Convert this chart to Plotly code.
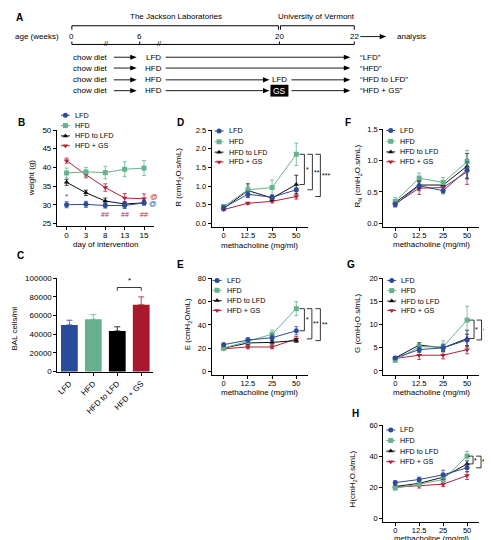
import plotly.graph_objects as go

W, H = 492, 540
def fx(p): return p / W
def fy(p): return 1 - p / H

FONT = "Liberation Sans, Arial, Helvetica, sans-serif"

groups = ["LFD", "HFD", "HFD to LFD", "HFD + GS"]
colors = ["#2d4b9b", "#67b28f", "#111111", "#b1213a"]
bar_colors = ["#2a4a9a", "#66b08e", "#000000", "#a8192f"]
symbols = ["circle", "square", "triangle-up", "triangle-down"]

# ---------------- Panel A (timeline) ----------------
age_ticks = ["0", "6", "20", "22"]
site_labels = ["The Jackson Laboratories", "University of Vermont"]
start_diet = "chow diet"
first_diet = ["LFD", "HFD", "HFD", "HFD"]
switch_at_20 = ["", "", "LFD", "GS"]
outcome = ["\u201cLFD\u201d", "\u201cHFD\u201d", "\u201cHFD to LFD\u201d", "\u201cHFD + GS\u201d"]

# ---------------- Panel B (weight) ----------------
days = ["0", "3", "8", "13", "15"]
weight_LFD = [30.0, 30.1, 29.8, 29.8, 30.5]
weight_HFD = [38.5, 38.8, 38.6, 39.5, 39.8]
weight_HFD_to_LFD = [36.0, 33.2, 31.0, 30.2, 30.5]
weight_HFD_GS = [41.8, 38.0, 34.6, 31.8, 31.6]
weight_err_LFD = [0.8, 0.8, 0.7, 0.8, 0.6]
weight_err_HFD = [1.3, 1.2, 1.7, 2.0, 2.0]
weight_err_HFD_to_LFD = [0.8, 0.7, 0.8, 0.6, 0.5]
weight_err_HFD_GS = [0.7, 0.8, 1.0, 1.2, 1.3]

# ---------------- Panel C (BAL cells) ----------------
bal_cells = [50000, 56000, 43500, 71500]
bal_err = [5000, 5000, 4500, 8500]

# ---------------- Panels D-H (methacholine) ----------------
mch = ["0", "12.5", "25", "50"]

R_LFD = [0.42, 0.78, 0.70, 0.90]
R_HFD = [0.45, 0.90, 0.96, 1.85]
R_HFD_to_LFD = [0.40, 0.88, 0.68, 1.04]
R_HFD_GS = [0.37, 0.54, 0.59, 0.72]
R_err_LFD = [0.05, 0.08, 0.06, 0.05]
R_err_HFD = [0.05, 0.10, 0.20, 0.30]
R_err_HFD_to_LFD = [0.04, 0.18, 0.07, 0.25]
R_err_HFD_GS = [0.03, 0.03, 0.04, 0.07]

E_LFD = [23, 27, 29, 35]
E_HFD = [20, 26, 32, 54]
E_HFD_to_LFD = [20, 24.5, 25, 26.5]
E_HFD_GS = [19.5, 21, 21, 28]
E_err_LFD = [1.5, 2, 2.5, 3.5]
E_err_HFD = [1, 2, 3.5, 6]
E_err_HFD_to_LFD = [1, 1.5, 1.5, 1.5]
E_err_HFD_GS = [1, 1.5, 1.5, 2]

RN_LFD = [0.30, 0.60, 0.52, 0.85]
RN_HFD = [0.35, 0.72, 0.65, 0.98]
RN_HFD_to_LFD = [0.33, 0.61, 0.61, 0.91]
RN_HFD_GS = [0.31, 0.56, 0.57, 0.82]
RN_err_LFD = [0.04, 0.08, 0.05, 0.13]
RN_err_HFD = [0.06, 0.08, 0.08, 0.18]
RN_err_HFD_to_LFD = [0.04, 0.06, 0.07, 0.20]
RN_err_HFD_GS = [0.04, 0.10, 0.08, 0.20]

G_LFD = [2.8, 4.6, 5.0, 6.7]
G_HFD = [2.3, 5.2, 5.2, 11.0]
G_HFD_to_LFD = [2.8, 5.6, 5.0, 7.0]
G_HFD_GS = [2.7, 3.4, 3.4, 4.6]
G_err_LFD = [0.3, 0.6, 0.8, 1.2]
G_err_HFD = [0.3, 0.8, 1.3, 3.0]
G_err_HFD_to_LFD = [0.3, 0.5, 0.6, 1.8]
G_err_HFD_GS = [0.4, 0.9, 0.8, 0.9]

Hh_LFD = [23, 25, 28, 32.5]
Hh_HFD = [19.5, 22, 25, 40]
Hh_HFD_to_LFD = [20.5, 22.5, 26.5, 35]
Hh_HFD_GS = [20, 21, 22, 27.5]
Hh_err_LFD = [1, 1.5, 3, 2.5]
Hh_err_HFD = [1, 1.5, 2, 3]
Hh_err_HFD_to_LFD = [1, 1.5, 1.5, 2]
Hh_err_HFD_GS = [1, 1.5, 1.5, 2.5]

fig = go.Figure()
annotations = []
shapes = []


def text(x, y, s, size=8, color="black", xanchor="center", yanchor="middle",
         angle=0, bold=False, xref="paper", yref="paper"):
    if bold:
        s = "<b>" + s + "</b>"
    annotations.append(dict(
        x=fx(x) if xref == "paper" else x, y=fy(y) if yref == "paper" else y,
        xref=xref, yref=yref, text=s, showarrow=False, textangle=angle,
        xanchor=xanchor, yanchor=yanchor,
        font=dict(family=FONT, size=size, color=color)))


def line(x0, y0, x1, y1, color="black", width=1):
    shapes.append(dict(type="line", xref="paper", yref="paper",
                       x0=fx(x0), y0=fy(y0), x1=fx(x1), y1=fy(y1),
                       line=dict(color=color, width=width)))


def arrow(x0, x1, y):
    line(x0, y, x1 - 4, y, width=0.9)
    path = (f"M {fx(x1)},{fy(y)} L {fx(x1 - 6.5)},{fy(y - 2.6)} "
            f"L {fx(x1 - 6.5)},{fy(y + 2.6)} Z")
    shapes.append(dict(type="path", xref="paper", yref="paper", path=path,
                       fillcolor="black", line=dict(width=0)))


# ---------- Panel A drawing ----------
text(11, 6, "A", size=10, bold=True)
text(167, 5, site_labels[0])
text(308, 5, site_labels[1])
age_px = [63, 131, 271, 346]
line(63, 14, 270, 14); line(63, 14, 63, 18); line(270, 14, 270, 18)
line(272, 14, 346, 14); line(272, 14, 272, 18); line(346, 14, 346, 18)
text(28, 25, "age (weeks)")
for p, t in zip(age_px, age_ticks):
    text(p, 25, t)
    line(p, 30, p, 33)
arrow(352, 378, 25)
text(387, 25, "analysis", xanchor="left")
line(63, 33, 346, 33)
text(97, 32.5, "//", size=7)
text(150, 32.5, "//", size=7)
row_y = [46, 57, 69, 80]
for i, y in enumerate(row_y):
    text(62, y, start_diet, xanchor="left")
    arrow(105, 128, y)
    text(145, y, first_diet[i])
    if switch_at_20[i] == "":
        arrow(157, 342, y)
    else:
        arrow(157, 261, y)
        if switch_at_20[i] == "GS":
            shapes.append(dict(type="rect", xref="paper", yref="paper",
                               x0=fx(262), x1=fx(280), y0=fy(74), y1=fy(86),
                               fillcolor="black", line=dict(width=0)))
            text(271, 80, switch_at_20[i], color="white", size=8.5)
        else:
            text(271, y, switch_at_20[i])
        arrow(283, 342, y)
    text(350, y, outcome[i], xanchor="left")

# ---------- axes helpers ----------
layout_axes = {}


def set_axes(n, xpx, ypx, yrange, dtick, tickformat, cats, tickangle=0, tsize=7.5):
    xs = "xaxis" if n == 1 else f"xaxis{n}"
    ys = "yaxis" if n == 1 else f"yaxis{n}"
    common = dict(showline=True, linecolor="black", linewidth=1, ticks="outside",
                  ticklen=3, tickwidth=1, tickcolor="black", showgrid=False,
                  zeroline=False, tickfont=dict(family=FONT, size=tsize, color="black"),
                  fixedrange=True)
    layout_axes[xs] = dict(common, domain=[fx(xpx[0]), fx(xpx[1])], type="category",
                           categoryorder="array", categoryarray=cats,
                           range=[-0.5, len(cats) - 0.5],
                           anchor="y" if n == 1 else f"y{n}", tickangle=tickangle)
    if tickangle == 0:
        layout_axes[xs]["ticklabelstandoff"] = -2
    layout_axes[ys] = dict(common, domain=[fy(ypx[1]), fy(ypx[0])], range=yrange,
                           dtick=dtick, tick0=0, tickformat=tickformat,
                           anchor="x" if n == 1 else f"x{n}")


def add_lines(n, cats, series, errs):
    xr = "x" if n == 1 else f"x{n}"
    yr = "y" if n == 1 else f"y{n}"
    for k in [3, 2, 1, 0]:
        c = colors[k]
        fig.add_trace(go.Scatter(
            x=cats, y=series[k], xaxis=xr, yaxis=yr, mode="lines+markers",
            name=groups[k], showlegend=False, cliponaxis=False,
            line=dict(color=c, width=1),
            marker=dict(color=c, size=5, symbol=symbols[k], line=dict(width=0)),
            error_y=dict(type="data", array=errs[k], color=c, thickness=0.8, width=2)))


# overlay axis in pixel units for legend glyphs
layout_axes["xaxis8"] = dict(domain=[0, 1], range=[0, W], visible=False, fixedrange=True,
                             anchor="y8")
layout_axes["yaxis8"] = dict(domain=[0, 1], range=[H, 0], visible=False, fixedrange=True,
                             anchor="x8")


def legend(x0, ys):
    for k in range(4):
        line(x0, ys[k], x0 + 9, ys[k], color=colors[k], width=1)
        text(x0 + 12, ys[k], groups[k], size=7.2, xanchor="left")
    fig.add_trace(go.Scatter(
        x=[x0 + 4.5] * 4, y=ys, xaxis="x8", yaxis="y8", mode="markers",
        showlegend=False, cliponaxis=False, hoverinfo="skip",
        marker=dict(color=colors, symbol=symbols, size=5, line=dict(width=0))))


def bracket(n, x_px, ytop, ybot, label):
    yr = "y" if n == 1 else f"y{n}"
    for (a, b, c, d) in [(x_px, ytop, x_px, ybot), (x_px - 5, ytop, x_px, ytop),
                         (x_px - 5, ybot, x_px, ybot)]:
        shapes.append(dict(type="line", xref="paper", yref=yr, x0=fx(a), x1=fx(c),
                           y0=b, y1=d, line=dict(color="black", width=0.8)))
    annotations.append(dict(x=fx(x_px + 0.2), y=(ytop + ybot) / 2, xref="paper", yref=yr,
                            text=label, showarrow=False, xanchor="left", yanchor="middle",
                            borderpad=0, font=dict(family=FONT, size=7, color="black")))


# ---------- Panel B ----------
set_axes(1, [48, 145], [120, 218], [25 - 3 / 3.8, 50], 5, None, days, tsize=8)
add_lines(1, days, [weight_LFD, weight_HFD, weight_HFD_to_LFD, weight_HFD_GS],
          [weight_err_LFD, weight_err_HFD, weight_err_HFD_to_LFD, weight_err_HFD_GS])
text(13, 112, "B", size=10, bold=True)
text(22, 169, "weight (g)", angle=-90)
text(96.5, 236, "day of intervention")
legend(52, [105, 115.5, 126, 136])
for xi in [2, 3, 4]:
    text(xi, 27.3, "##", size=7, color=colors[3], xref="x", yref="y")
text(0, 32.3, "*", size=8, color=colors[0], xref="x", yref="y")
text(4.5, weight_HFD_GS[4] + 0.7, "@", size=7.5, color=colors[3], xref="x", yref="y")
text(4.44, weight_LFD[4] - 0.3, "@", size=7.5, color=colors[0], xref="x", yref="y")
text(4.95, weight_HFD_to_LFD[4] - 0.3, "@", size=7.5, color=colors[2], xref="x", yref="y")

# ---------- Panel C ----------
set_axes(2, [48.5, 144.5], [270.7, 366], [-300, 100000], 20000, "d", groups,
         tickangle=-45, tsize=8)
for k in range(4):
    fig.add_trace(go.Bar(
        x=[groups[k]], y=[bal_cells[k]], xaxis="x2", yaxis="y2", width=0.7,
        marker=dict(color=bar_colors[k], line=dict(width=0)), showlegend=False,
        error_y=dict(type="data", array=[bal_err[k]], arrayminus=[0], symmetric=False,
                     color=bar_colors[k], thickness=0.8, width=3)))
text(12, 248, "C", size=10, bold=True)
text(6, 322, "BAL cells/ml", angle=-90)
shapes.append(dict(type="line", xref="x2", yref="y2", x0=2, x1=3, y0=90000, y1=90000,
                   line=dict(color="black", width=0.8)))
for xi in [2, 3]:
    shapes.append(dict(type="line", xref="x2", yref="y2", x0=xi, x1=xi, y0=90000, y1=86500,
                       line=dict(color="black", width=0.8)))
annotations.append(dict(x=2.5, y=90500, xref="x2", yref="y2", text="*", showarrow=False,
                        yanchor="bottom", font=dict(family=FONT, size=8)))

# ---------- Panel D ----------
set_axes(3, [203, 300], [120, 219], [-4 / 38, 2.5], 0.5, ".1f", mch)
add_lines(3, mch, [R_LFD, R_HFD, R_HFD_to_LFD, R_HFD_GS],
          [R_err_LFD, R_err_HFD, R_err_HFD_to_LFD, R_err_HFD_GS])
text(172, 112, "D", size=10, bold=True)
text(171, 168, "R (cmH<sub>2</sub>O.s/mL)", angle=-90)
text(251.5, 237, "methacholine (mg/ml)")
legend(206, [121, 132, 142.5, 152.5])
bracket(3, 296, R_HFD[3], R_HFD_to_LFD[3], "*")
bracket(3, 304, R_HFD[3], R_LFD[3], "**")
bracket(3, 312, R_HFD[3], R_HFD_GS[3], "***")

# ---------- Panel E ----------
set_axes(4, [203, 300], [271, 369], [-3.5 / (94.5 / 80), 80], 20, None, mch)
add_lines(4, mch, [E_LFD, E_HFD, E_HFD_to_LFD, E_HFD_GS],
          [E_err_LFD, E_err_HFD, E_err_HFD_to_LFD, E_err_HFD_GS])
text(172, 257, "E", size=10, bold=True)
text(179, 318, "E (cmH<sub>2</sub>O/mL)", angle=-90)
text(251.5, 387, "methacholine (mg/ml)")
legend(204, [273, 283, 293.5, 303.5])
bracket(4, 296, E_HFD[3], E_LFD[3], "*")
bracket(4, 303.5, E_HFD[3], E_HFD_GS[3], "**")
bracket(4, 312, E_HFD[3], E_HFD_to_LFD[3], "**")

# ---------- Panel F ----------
set_axes(5, [375, 471], [119, 219], [-4 / 64, 1.5], 0.5, ".1f", mch)
add_lines(5, mch, [RN_LFD, RN_HFD, RN_HFD_to_LFD, RN_HFD_GS],
          [RN_err_LFD, RN_err_HFD, RN_err_HFD_to_LFD, RN_err_HFD_GS])
text(340, 112, "F", size=10, bold=True)
text(350, 167, "R<sub>N</sub> (cmH<sub>2</sub>O.s/mL)", angle=-90)
text(423, 236, "methacholine (mg/ml)")
legend(378, [120.5, 131.5, 142.3, 152.3])

# ---------- Panel G ----------
set_axes(6, [375, 471], [271, 369], [-4 / 4.7, 20], 5, None, mch)
add_lines(6, mch, [G_LFD, G_HFD, G_HFD_to_LFD, G_HFD_GS],
          [G_err_LFD, G_err_HFD, G_err_HFD_to_LFD, G_err_HFD_GS])
text(343, 257, "G", size=10, bold=True)
text(349, 317, "G (cmH<sub>2</sub>O.s/mL)", angle=-90)
text(423, 387, "methacholine (mg/ml)")
legend(379, [273, 283.3, 294, 303.5])
bracket(6, 466, G_HFD[3], G_HFD_to_LFD[3], "*")
bracket(6, 473.5, G_HFD[3], G_LFD[3], "*")
bracket(6, 481, G_HFD[3], G_HFD_GS[3], "**")

# ---------- Panel H ----------
set_axes(7, [375, 471], [420, 519], [-4 / (95 / 60), 60], 20, None, mch)
add_lines(7, mch, [Hh_LFD, Hh_HFD, Hh_HFD_to_LFD, Hh_HFD_GS],
          [Hh_err_LFD, Hh_err_HFD, Hh_err_HFD_to_LFD, Hh_err_HFD_GS])
text(347, 408, "H", size=10, bold=True)
text(345, 475, "H(cmH<sub>2</sub>O.s/mL)", angle=-90)
text(423, 535.5, "methacholine (mg/ml)", size=7.8)
legend(378, [425, 435.7, 446.5, 457.3])
bracket(7, 465, Hh_HFD[3], Hh_HFD_to_LFD[3], "*")
bracket(7, 473, Hh_HFD[3], Hh_LFD[3], "*")
bracket(7, 481, Hh_HFD[3], Hh_HFD_GS[3], "**")

fig.update_layout(
    width=W, height=H, margin=dict(l=0, r=0, t=0, b=0),
    paper_bgcolor="white", plot_bgcolor="rgba(0,0,0,0)",
    showlegend=False, barmode="overlay",
    font=dict(family=FONT, size=8, color="black"),
    annotations=annotations, shapes=shapes, **layout_axes)

fig.write_html("out.html")
